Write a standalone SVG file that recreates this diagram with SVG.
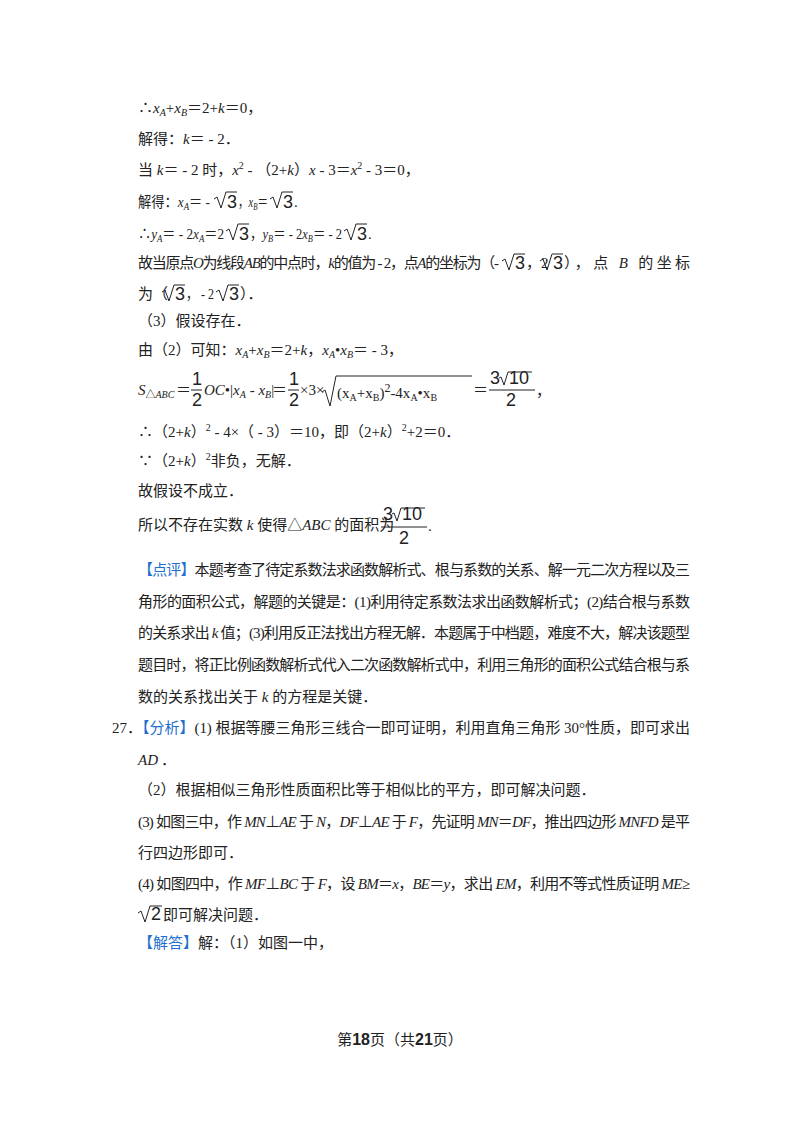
<svg xmlns="http://www.w3.org/2000/svg" width="800" height="1132" viewBox="0 0 800 1132">
<style>
text{font-family:"Liberation Serif","Noto Sans CJK SC",serif;font-size:15px;fill:#222}
.i{font-style:italic}
.s{font-size:10px}
.b{fill:#1e6fd0}
.r{fill:none;stroke:#222;stroke-width:1}
.big{font-family:"Liberation Sans",sans-serif;font-size:18px}
</style>
<rect width="800" height="1132" fill="#fff"/>
<g id="body">
<text x="138" y="113">∴<tspan class="i">x</tspan><tspan class="i s" dy="3">A</tspan><tspan dy="-3">+</tspan><tspan class="i">x</tspan><tspan class="i s" dy="3">B</tspan><tspan dy="-3">＝2+</tspan><tspan class="i">k</tspan>＝0，</text>
<text x="138" y="144">解得：<tspan class="i">k</tspan>＝ - 2．</text>
<text x="138" y="175">当 <tspan class="i">k</tspan>＝ - 2 时，<tspan class="i">x</tspan><tspan class="s" dy="-6">2</tspan><tspan dy="6"> - （2+</tspan><tspan class="i">k</tspan>）<tspan class="i">x</tspan> - 3＝<tspan class="i">x</tspan><tspan class="s" dy="-6">2</tspan><tspan dy="6"> - 3＝0，</tspan></text>

<text x="138" y="207" textLength="72" lengthAdjust="spacingAndGlyphs">解得：<tspan class="i">x</tspan><tspan class="i s" dy="3">A</tspan><tspan dy="-3">＝ -</tspan></text>
<path class="r" d="M214 199l3-2 4 11 5-16h11"/><text x="227" y="208" class="big">3</text>
<text x="238" y="207" textLength="30" lengthAdjust="spacingAndGlyphs">，<tspan class="i">x</tspan><tspan class="i s" dy="3">B</tspan><tspan dy="-3">＝</tspan></text>
<path class="r" d="M270 199l3-2 4 11 5-16h11"/><text x="283" y="208" class="big">3</text><text x="294" y="207">.</text>

<text x="138" y="239" textLength="86" lengthAdjust="spacingAndGlyphs">∴<tspan class="i">y</tspan><tspan class="i s" dy="3">A</tspan><tspan dy="-3">＝ - 2</tspan><tspan class="i">x</tspan><tspan class="i s" dy="3">A</tspan><tspan dy="-3">＝2</tspan></text>
<path class="r" d="M226 231l3-2 4 11 5-16h11"/><text x="239" y="240" class="big">3</text>
<text x="250" y="239" textLength="92" lengthAdjust="spacingAndGlyphs">，<tspan class="i">y</tspan><tspan class="i s" dy="3">B</tspan><tspan dy="-3">＝ - 2</tspan><tspan class="i">x</tspan><tspan class="i s" dy="3">B</tspan><tspan dy="-3">＝ - 2</tspan></text>
<path class="r" d="M344 231l3-2 4 11 5-16h11"/><text x="357" y="240" class="big">3</text><text x="368" y="239">.</text>

<text x="138" y="268" font-size="14" textLength="361">故当原点<tspan class="i">O</tspan>为线段<tspan class="i">AB</tspan>的中点时，<tspan class="i">k</tspan>的值为 - 2，点<tspan class="i">A</tspan>的坐标为（-</text>
<path class="r" d="M502 261l3-2 4 11 5-16h11"/><text x="515" y="269" class="big">3</text>
<text x="526" y="268" font-size="14">，2</text>
<path class="r" d="M540 261l3-2 4 11 5-16h11"/><text x="553" y="269" class="big">3</text>
<text x="564" y="268" textLength="126">），点 <tspan class="i">B</tspan> 的坐标</text>

<text x="138" y="299">为（</text>
<path class="r" d="M162 292l3-2 4 11 5-16h11"/><text x="175" y="300" class="big">3</text>
<text x="186" y="299" textLength="28" lengthAdjust="spacingAndGlyphs">，  - 2</text>
<path class="r" d="M216 292l3-2 4 11 5-16h11"/><text x="229" y="300" class="big">3</text>
<text x="240" y="299">）．</text>

<text x="138" y="326">（3）假设存在．</text>
<text x="138" y="355">由（2）可知：<tspan class="i">x</tspan><tspan class="i s" dy="3">A</tspan><tspan dy="-3">+</tspan><tspan class="i">x</tspan><tspan class="i s" dy="3">B</tspan><tspan dy="-3">＝2+</tspan><tspan class="i">k</tspan>，<tspan class="i">x</tspan><tspan class="i s" dy="3">A</tspan><tspan dy="-3">•</tspan><tspan class="i">x</tspan><tspan class="i s" dy="3">B</tspan><tspan dy="-3">＝ - 3，</tspan></text>

<text x="138" y="395"><tspan class="i">S</tspan><tspan class="s" dy="3">△<tspan class="i">ABC</tspan></tspan></text>
<text x="176" y="395">＝</text>
<text x="192" y="385" class="big" font-size="17">1</text><text x="192" y="406" class="big" font-size="17">2</text>
<path class="r" d="M191 390h11"/>
<text x="204" y="395"><tspan class="i">OC</tspan>•|<tspan class="i">x</tspan><tspan class="i s" dy="3">A</tspan><tspan dy="-3"> - </tspan><tspan class="i">x</tspan><tspan class="i s" dy="3">B</tspan><tspan dy="-3">|</tspan></text>
<text x="272" y="395">＝</text>
<text x="289" y="385" class="big" font-size="17">1</text><text x="289" y="406" class="big" font-size="17">2</text>
<path class="r" d="M288 390h11"/>
<text x="300" y="395" font-size="12">×3×</text>
<path class="r" d="M322 392l3-2 5 16 6-30h136"/>
<text x="337" y="398" font-family="Liberation Mono,monospace" font-size="13">(x<tspan font-size="10" dy="3">A</tspan><tspan dy="-3">+x</tspan><tspan font-size="10" dy="3">B</tspan><tspan dy="-3">)</tspan><tspan dy="-6" font-size="12">2</tspan><tspan dy="6">-4x</tspan><tspan font-size="10" dy="3">A</tspan><tspan dy="-3">•x</tspan><tspan font-size="10" dy="3">B</tspan></text>
<text x="473" y="395">＝</text>
<text x="490" y="384" class="big" font-size="16">3</text><path class="r" d="M499 378l2-1 3 8 4-13h24"/><text x="509" y="384" class="big" font-size="16">10</text>
<text x="506" y="406" class="big" font-size="16">2</text>
<path class="r" d="M489 390h46"/>
<text x="536" y="396">，</text>

<text x="138" y="437">∴（2+<tspan class="i">k</tspan>）<tspan class="s" dy="-6">2</tspan><tspan dy="6"> - 4×（ - 3）＝10，即（2+</tspan><tspan class="i">k</tspan>）<tspan class="s" dy="-6">2</tspan><tspan dy="6">+2＝0．</tspan></text>
<text x="138" y="466">∵（2+<tspan class="i">k</tspan>）<tspan class="s" dy="-6">2</tspan><tspan dy="6">非负，无解．</tspan></text>
<text x="138" y="496">故假设不成立．</text>
<text x="138" y="530">所以不存在实数 <tspan class="i">k</tspan> 使得△<tspan class="i">ABC</tspan> 的面积为</text>
<text x="383" y="520" class="big" font-size="16">3</text><path class="r" d="M392 514l2-1 3 8 4-13h24"/><text x="402" y="520" class="big" font-size="16">10</text>
<text x="399" y="544" class="big" font-size="16">2</text>
<path class="r" d="M381 527h46"/>
<text x="428" y="531">.</text>

<text x="138" y="575" textLength="552"><tspan class="b">【点评】</tspan>本题考查了待定系数法求函数解析式、根与系数的关系、解一元二次方程以及三</text>
<text x="138" y="607" textLength="552">角形的面积公式，解题的关键是：(1)利用待定系数法求出函数解析式；(2)结合根与系数</text>
<text x="138" y="638" textLength="552">的关系求出 <tspan class="i">k</tspan> 值；(3)利用反正法找出方程无解．本题属于中档题，难度不大，解决该题型</text>
<text x="138" y="670" textLength="552">题目时，将正比例函数解析式代入二次函数解析式中，利用三角形的面积公式结合根与系</text>
<text x="138" y="702">数的关系找出关于 <tspan class="i">k</tspan> 的方程是关键．</text>
<text x="112" y="733" textLength="578">27．<tspan class="b">【分析】</tspan>(1) 根据等腰三角形三线合一即可证明，利用直角三角形 30°性质，即可求出</text>
<text x="138" y="765" class="i">AD</text><text x="161" y="765">．</text>
<text x="138" y="795">（2）根据相似三角形性质面积比等于相似比的平方，即可解决问题．</text>
<text x="138" y="827" textLength="552">(3) 如图三中，作 <tspan class="i">MN</tspan>⊥<tspan class="i">AE</tspan> 于 <tspan class="i">N</tspan>，<tspan class="i">DF</tspan>⊥<tspan class="i">AE</tspan> 于 <tspan class="i">F</tspan>，先证明 <tspan class="i">MN</tspan>＝<tspan class="i">DF</tspan>，推出四边形 <tspan class="i">MNFD</tspan> 是平</text>
<text x="138" y="858">行四边形即可．</text>
<text x="138" y="889" textLength="552">(4) 如图四中，作 <tspan class="i">MF</tspan>⊥<tspan class="i">BC</tspan> 于 <tspan class="i">F</tspan>，设 <tspan class="i">BM</tspan>＝<tspan class="i">x</tspan>，<tspan class="i">BE</tspan>＝<tspan class="i">y</tspan>，求出 <tspan class="i">EM</tspan>，利用不等式性质证明 <tspan class="i">ME</tspan>≥</text>
<path class="r" d="M138 913l3-2 4 11 5-16h12"/><text x="151" y="920" class="big">2</text><text x="163" y="920">即可解决问题．</text>
<text x="138" y="948"><tspan class="b">【解答】</tspan>解：（1）如图一中，</text>
</g>
<g id="footer">
<text x="400" y="1045" text-anchor="middle" font-size="13">第<tspan font-weight="bold" font-size="16" font-family="Liberation Sans,sans-serif">18</tspan>页（共<tspan font-weight="bold" font-size="16" font-family="Liberation Sans,sans-serif">21</tspan>页）</text>
</g>
</svg>
